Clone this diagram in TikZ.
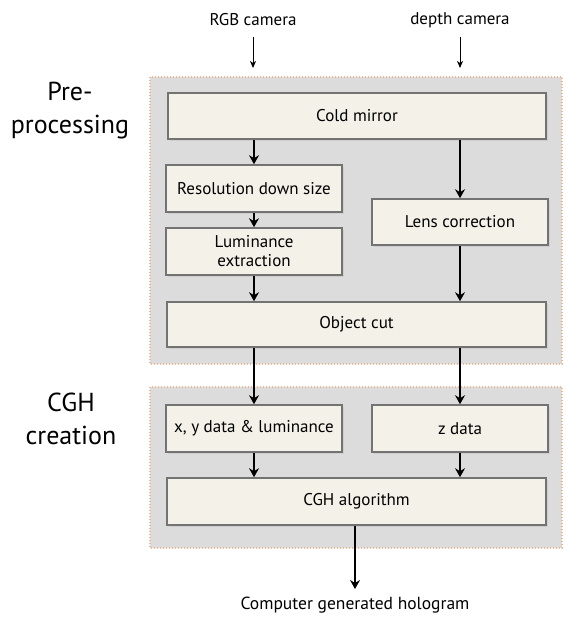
\documentclass[tikz,border=0pt]{standalone}
\usepackage{fontspec}
\setmainfont{PT Sans}
\usetikzlibrary{arrows.meta,shadows}
\definecolor{panelfill}{HTML}{DCDCDC}
\definecolor{panelline}{HTML}{EFB58F}
\definecolor{boxfill}{HTML}{F4F1E9}
\definecolor{boxline}{HTML}{737373}
\tikzset{
  panel/.style={fill=panelfill, draw=panelline, line width=1.3pt, dash pattern=on 1.3pt off 1.7pt},
  stepbox/.style={draw=boxline, fill=boxfill, line width=1.6pt, inner sep=0pt, align=center,
     font=\fontsize{17}{19}\selectfont,
     drop shadow={opacity=0.15, shadow xshift=2pt, shadow yshift=-2pt}},
  arr/.style={line width=1.8pt, -{Stealth[length=9pt,width=10pt,inset=3pt]}},
  thinarr/.style={line width=0.9pt, -{Stealth[length=7pt,width=6pt,inset=2pt]}},
  lab/.style={font=\fontsize{17}{19}\selectfont},
  biglab/.style={font=\fontsize{26}{33}\selectfont, align=center}
}
\begin{document}
\begin{tikzpicture}[x=1pt,y=-1pt]
\useasboundingbox (0,0) rectangle (565,617);
% panels
\draw[panel] (150,77) rectangle (562,364);
\draw[panel] (150,387) rectangle (562,548);
% labels
\node[biglab] (pre) at (70,111) {Pre-\\processing};
\node[biglab] (cghc) at (71,419) {CGH\\creation};
\node[lab] (rgb) at (253,20) {RGB camera};
\node[lab] (depth) at (460,20) {depth camera};
\coordinate (rgbs) at (253,37);
\coordinate (rgbe) at (253,68);
\coordinate (deps) at (460,37);
\coordinate (depe) at (460,68);
\draw[thinarr] (rgbs) -- (rgbe);
\draw[thinarr] (deps) -- (depe);
% boxes
\node[stepbox, minimum width=378pt, minimum height=46pt] (cold) at (357,116) {Cold mirror};
\node[stepbox, minimum width=176pt, minimum height=47pt] (res) at (254,188.5) {Resolution down size};
\node[stepbox, minimum width=176pt, minimum height=47pt] (lum) at (254,251.5) {Luminance\\extraction};
\node[stepbox, minimum width=176pt, minimum height=46pt] (lens) at (460,222) {Lens correction};
\node[stepbox, minimum width=379pt, minimum height=45pt] (obj) at (356.5,324.5) {Object cut};
\node[stepbox, minimum width=176pt, minimum height=47pt] (xy) at (254,428.5) {x, y data \& luminance};
\node[stepbox, minimum width=176pt, minimum height=47pt] (z) at (460,428.5) {z data};
\node[stepbox, minimum width=379pt, minimum height=47pt] (cgh) at (356.5,501.5) {CGH algorithm};
\node[lab, font=\fontsize{17.5}{19}\selectfont] (out) at (355,605) {Computer generated hologram};
\coordinate (outarr) at (355,589);
% arrows
\draw[arr] (res.north |- cold.south) -- (res.north);
\draw[arr] (res.south) -- (lum.north);
\draw[arr] (lum.south) -- (lum.south |- obj.north);
\draw[arr] (lens.north |- cold.south) -- (lens.north);
\draw[arr] (lens.south) -- (lens.south |- obj.north);
\draw[arr] (xy.north |- obj.south) -- (xy.north);
\draw[arr] (z.north |- obj.south) -- (z.north);
\draw[arr] (xy.south) -- (xy.south |- cgh.north);
\draw[arr] (z.south) -- (z.south |- cgh.north);
\draw[arr] (cgh.south -| outarr) -- (outarr);
\end{tikzpicture}
\end{document}
